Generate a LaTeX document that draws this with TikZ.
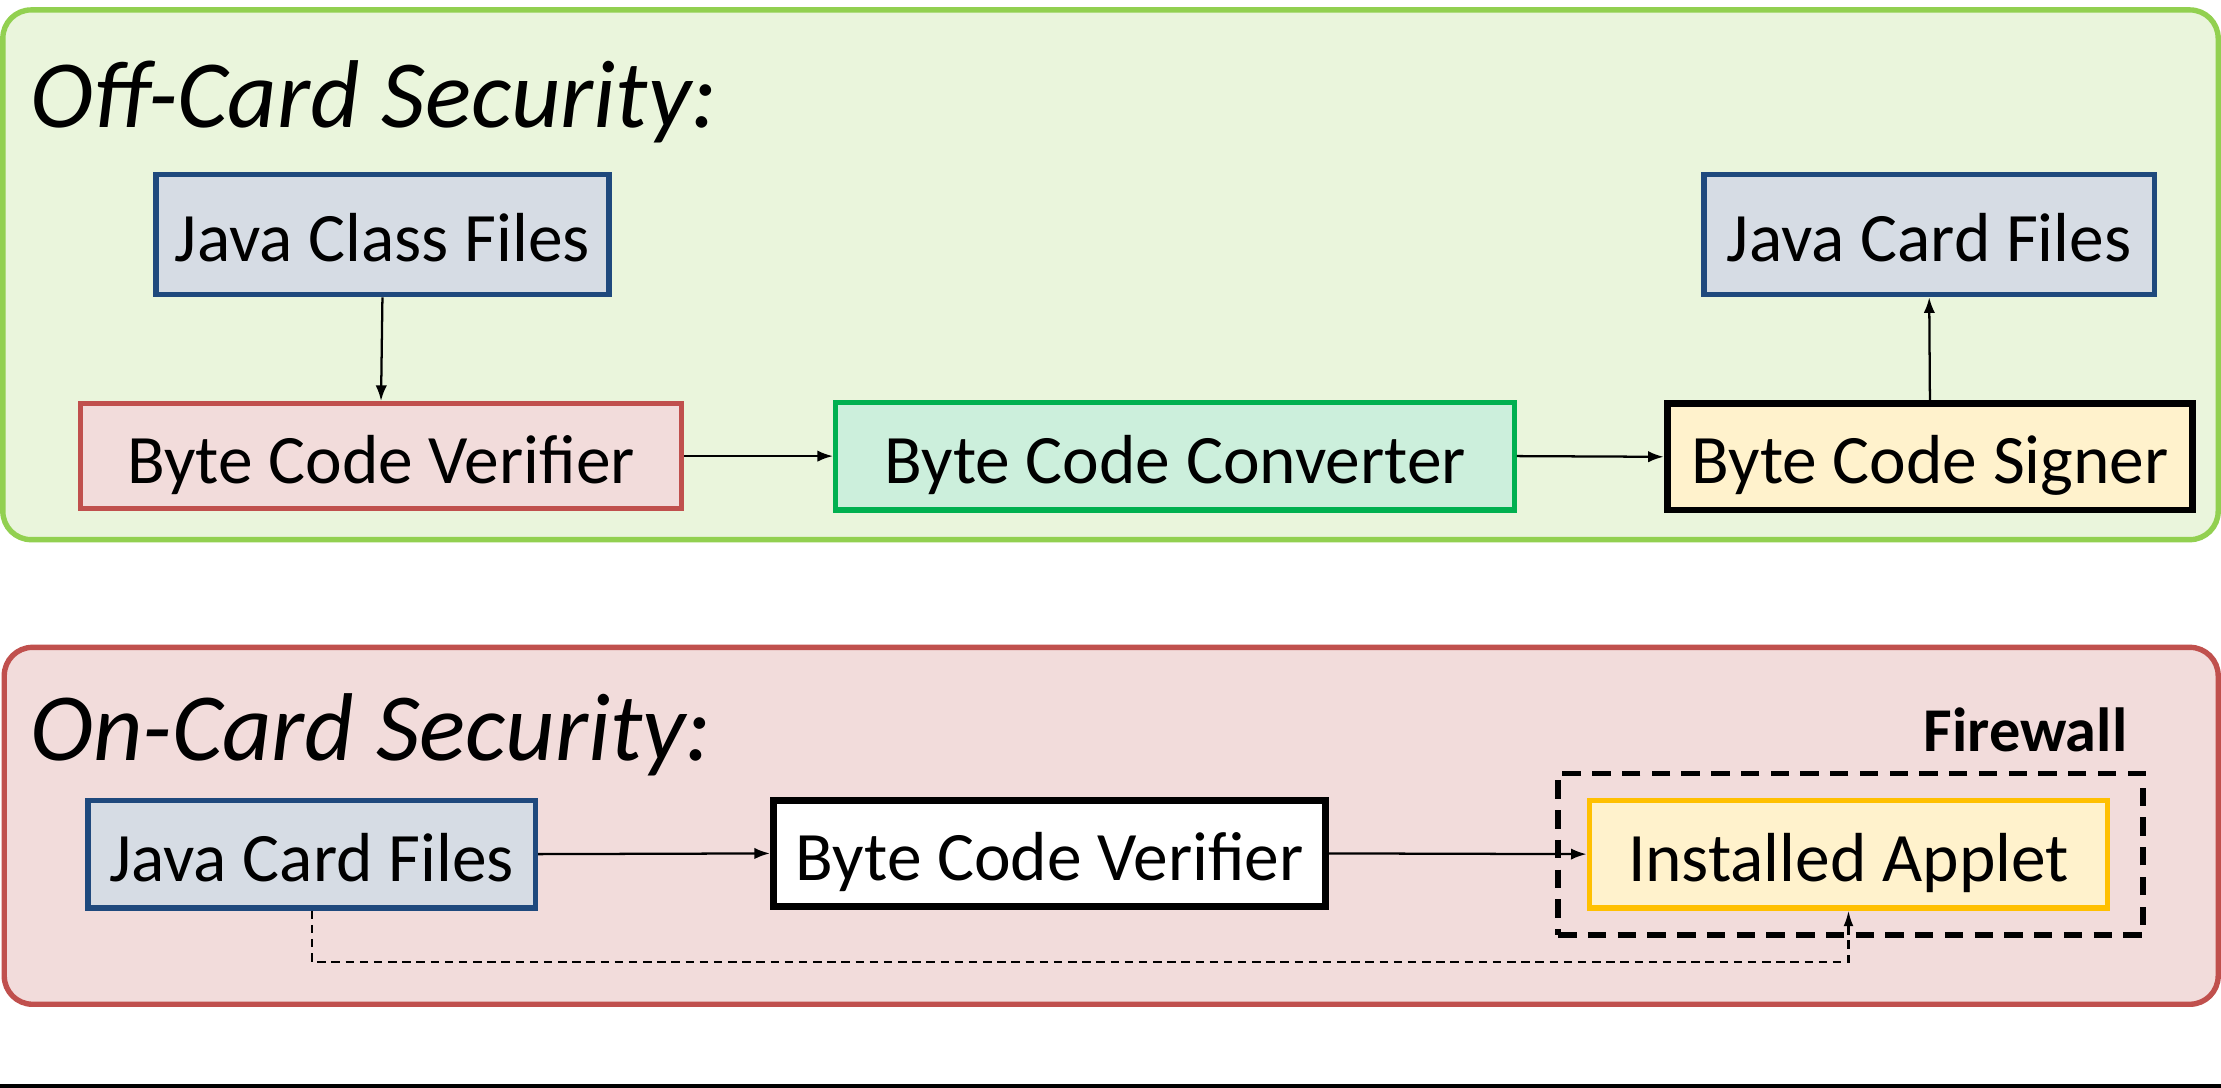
\documentclass[tikz,border=0pt]{standalone}
\usepackage{fontspec}
\setmainfont{Carlito}
\usetikzlibrary{arrows.meta}
\definecolor{outgreen}{HTML}{92D050}
\definecolor{outgreenfill}{HTML}{EAF5DC}
\definecolor{redline}{HTML}{C0504D}
\definecolor{redfill}{HTML}{F2DCDB}
\definecolor{blueline}{HTML}{1F497D}
\definecolor{bluefill}{HTML}{D6DCE4}
\definecolor{greenline}{HTML}{00B050}
\definecolor{greenfill}{HTML}{CCEFDC}
\definecolor{yelfill}{HTML}{FFF2CC}
\definecolor{orangeline}{HTML}{FFC000}
\tikzset{
  box/.style={rectangle, inner sep=0pt, line width=3.8pt, font=\fontsize{49}{58}\selectfont, text=black, text height=40pt, text depth=2pt},
  bluebox/.style={box, draw=blueline, fill=bluefill},
  redbox/.style={box, draw=redline, fill=redfill},
  greenbox/.style={box, draw=greenline, fill=greenfill},
  signbox/.style={box, draw=black, line width=4.8pt, fill=yelfill},
  whitebox/.style={box, draw=black, line width=4.8pt, fill=white},
  appletbox/.style={box, draw=orangeline, fill=yelfill},
  conn/.style={line width=1.6pt, -{Latex[length=11pt,width=8pt]}},
  dconn/.style={line width=1.5pt, dash pattern=on 6pt off 4pt, -{Latex[length=11pt,width=7pt]}},
  section/.style={rounded corners=20pt, line width=3.8pt},
  title/.style={anchor=base west, inner sep=0pt, font=\fontsize{68}{80}\selectfont\itshape}
}
\begin{document}
\begin{tikzpicture}[x=1pt,y=-1pt]
\useasboundingbox (0,0) rectangle (1568,768);
\fill[white] (0,0) rectangle (1568,768);
% sections
\draw[section, draw=outgreen, fill=outgreenfill] (2,7) rectangle (1566,381);
\draw[section, draw=redline, fill=redfill] (3,457) rectangle (1566,709);
% titles
\node[title] (t1) at (21,90) {Off-Card Security:};
\node[title] (t2) at (21,537) {On-Card Security:};
% off-card nodes
\node[bluebox, minimum width=320pt, minimum height=85pt] (jcls) at (270,165.5) {Java Class Files};
\node[redbox, minimum width=424pt, minimum height=74pt] (bcv1) at (269,322) {Byte Code Verifier};
\node[greenbox, minimum width=479pt, minimum height=76pt] (bcc) at (829.5,322) {Byte Code Converter};
\node[signbox, minimum width=371pt, minimum height=75pt] (bcs) at (1362.5,322.5) {Byte Code Signer};
\node[bluebox, minimum width=318pt, minimum height=85pt] (jcft) at (1362,165.5) {Java Card Files};
% on-card nodes
\node[draw=black, line width=3.8pt, dash pattern=on 13pt off 8pt, minimum width=413pt, minimum height=114pt, inner sep=0pt] (fw) at (1306.5,603) {};
\node[anchor=east, inner sep=0pt, font=\fontsize{44}{52}\selectfont\bfseries] (fwl) at (1502,515) {Firewall};
\node[bluebox, minimum width=316pt, minimum height=76pt] (jcfb) at (220,603) {Java Card Files};
\node[whitebox, minimum width=390pt, minimum height=75pt] (bcv2) at (741,602.5) {Byte Code Verifier};
\node[appletbox, minimum width=366pt, minimum height=76pt] (ia) at (1305,603) {Installed Applet};
% connectors
\draw[conn] (jcls.south) -- (bcv1.north);
\draw[conn] (bcv1.east) -- (bcc.west);
\draw[conn] (bcc.east) -- (bcs.west);
\draw[conn] (bcs.north) -- (jcft.south);
\draw[conn] (jcfb.east) -- (bcv2.west);
\draw[conn] (bcv2.east) -- (ia.west);
\draw[dconn] (jcfb.south) -- ++(0,36) -| (ia.south);
% bottom rule
\draw[line width=3pt] (0,766.5) -- (1568,766.5);
\end{tikzpicture}
\end{document}
